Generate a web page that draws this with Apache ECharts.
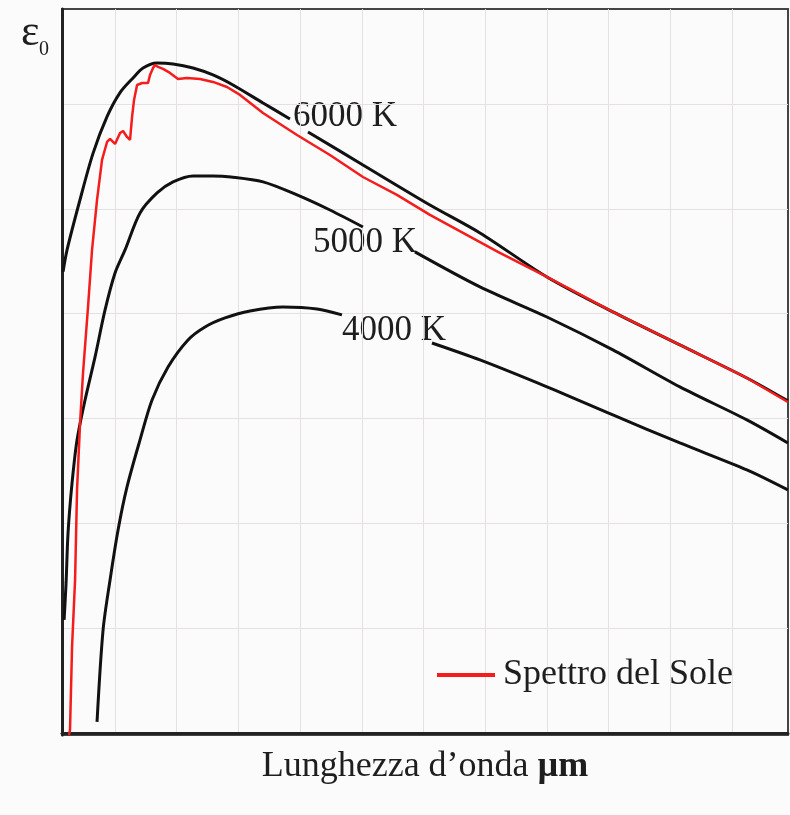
<!DOCTYPE html>
<html>
<head>
<meta charset="utf-8">
<script src="https://cdn.jsdelivr.net/npm/echarts@6/dist/echarts.min.js"></script>
<style>
  html, body { margin: 0; padding: 0; background: #fbfbfb; }
  #app { width: 790px; height: 815px; }
</style>
</head>
<body>
<div id="app"></div>
<script>
// gridline positions (axis units)
const xGrid = [1, 2, 3, 4, 5, 6, 7, 8, 9, 10, 11];
const yGrid = [1, 2, 3, 4, 5, 6];

// black body curves, null = gap under the label
const k6000 = [
  [0.157, 4.40], [0.222, 4.61], [0.433, 5.09], [0.643, 5.53], [0.87, 5.88],
  [1.081, 6.11], [1.292, 6.25], [1.454, 6.345], [1.681, 6.393], [1.94, 6.384],
  [2.264, 6.345], [2.588, 6.279], [2.912, 6.183], [3.399, 6.011], [3.836, 5.859],
  [3.95, null],
  [4.128, 5.735], [5.019, 5.42], [6.105, 5.038], [6.916, 4.771], [8.002, 4.351],
  [9.071, 4.017], [10.157, 3.702], [11.243, 3.387], [11.908, 3.168]
];
const k5000 = [
  [0.174, 1.078], [0.206, 1.431], [0.238, 1.908], [0.303, 2.385], [0.384, 2.796],
  [0.514, 3.177], [0.676, 3.588], [0.838, 4.036], [1.0, 4.389], [1.162, 4.609],
  [1.405, 4.962], [1.681, 5.153], [1.94, 5.258], [2.264, 5.315], [2.588, 5.315],
  [2.88, 5.305], [3.399, 5.258], [3.95, 5.134], [4.484, 4.99], [5.019, 4.828],
  [5.4, null],
  [5.862, 4.59], [6.916, 4.256], [8.002, 3.969], [9.071, 3.655], [10.157, 3.302],
  [11.243, 2.987], [11.908, 2.767]
];
const k4000 = [
  [0.708, 0.105], [0.806, 0.983], [0.919, 1.46], [1.049, 1.937], [1.194, 2.347],
  [1.405, 2.796], [1.6, 3.177], [1.859, 3.492], [2.183, 3.75], [2.459, 3.874],
  [2.783, 3.96], [3.188, 4.027], [3.723, 4.065], [4.274, 4.046], [4.679, 3.989],
  [5.4, null],
  [6.138, 3.721], [6.916, 3.559], [8.002, 3.302], [9.071, 3.034], [10.157, 2.767],
  [11.243, 2.51], [11.908, 2.319]
];
// solar spectrum
const sun = [
  [0.254, -0.02], [0.27, 0.029], [0.303, 0.821], [0.352, 1.46], [0.384, 2.319],
  [0.433, 2.958], [0.481, 3.435], [0.562, 4.065], [0.627, 4.609], [0.708, 5.086],
  [0.789, 5.468], [0.87, 5.639], [0.919, 5.668], [1.0, 5.62], [1.081, 5.725],
  [1.13, 5.744], [1.194, 5.687], [1.243, 5.658], [1.276, 5.878], [1.308, 6.04],
  [1.357, 6.183], [1.438, 6.202], [1.535, 6.202], [1.567, 6.279], [1.616, 6.345],
  [1.648, 6.374], [1.697, 6.355], [1.778, 6.336], [1.891, 6.298], [2.021, 6.24],
  [2.167, 6.25], [2.378, 6.24], [2.588, 6.212], [2.815, 6.164], [3.026, 6.088],
  [3.399, 5.916], [3.95, 5.706], [4.484, 5.515], [5.019, 5.305], [5.57, 5.134],
  [6.105, 4.943], [7.207, 4.59], [8.002, 4.351], [9.071, 4.017], [10.157, 3.702],
  [11.243, 3.387], [11.908, 3.158]
];

const serif = '"Liberation Serif", "DejaVu Serif", serif';
const ink = '#1e1e1e';

const blackLine = (name, data) => ({
  name: name,
  type: 'line',
  data: data,
  showSymbol: false,
  smooth: 0.3,
  connectNulls: false,
  lineStyle: { color: '#111', width: 3 },
  z: 3
});

const option = {
  backgroundColor: '#fbfbfb',
  animation: false,
  grid: {
    left: 62, right: 2, top: 9, bottom: 80,
    containLabel: false,
    show: true,
    borderColor: '#444',
    borderWidth: 2
  },
  legend: {
    data: ['Spettro del Sole'],
    left: 432,
    top: 652,
    icon: 'rect',
    itemWidth: 58,
    itemHeight: 4,
    textStyle: { fontFamily: serif, fontSize: 36, color: ink, padding: [0, 0, 0, 3] }
  },
  xAxis: {
    type: 'value',
    min: 0.14,
    max: 11.91,
    name: 'Lunghezza d’onda {b|µm}',
    nameLocation: 'middle',
    nameGap: 14,
    nameTextStyle: {
      fontFamily: serif, fontSize: 36, color: ink,
      rich: { b: { fontFamily: serif, fontSize: 36, fontWeight: 'bold', color: ink } }
    },
    axisLine: { show: true, lineStyle: { color: '#222', width: 3 } },
    axisTick: { show: false, customValues: xGrid },
    axisLabel: { show: false },
    splitLine: { show: true, lineStyle: { color: '#e6e1e1', width: 1 } }
  },
  yAxis: {
    type: 'value',
    min: -0.02,
    max: 6.908,
    axisLine: { show: true, lineStyle: { color: '#222', width: 3 } },
    axisTick: { show: false, customValues: yGrid },
    axisLabel: { show: false },
    splitLine: { show: true, lineStyle: { color: '#e6e1e1', width: 1 } }
  },
  graphic: [
    { type: 'text', left: 21, top: 11, style: { text: 'ε', font: '44px ' + serif, fill: ink } },
    { type: 'text', left: 39, top: 40, style: { text: '0', font: '20px ' + serif, fill: ink } },
    { type: 'text', left: 293, top: 99, style: { text: '6000 K', font: '35px ' + serif, fill: ink } },
    { type: 'text', left: 313, top: 225, style: { text: '5000 K', font: '35px ' + serif, fill: ink } },
    { type: 'text', left: 342, top: 313, style: { text: '4000 K', font: '35px ' + serif, fill: ink } }
  ],
  series: [
    blackLine('4000 K', k4000),
    blackLine('5000 K', k5000),
    blackLine('6000 K', k6000),
    {
      name: 'Spettro del Sole',
      type: 'line',
      data: sun,
      showSymbol: false,
      smooth: false,
      itemStyle: { color: '#f51c1c' },
      lineStyle: { color: '#f51c1c', width: 2.5 },
      z: 4
    }
  ]
};

echarts.init(document.getElementById('app')).setOption(option);
</script>
</body>
</html>
